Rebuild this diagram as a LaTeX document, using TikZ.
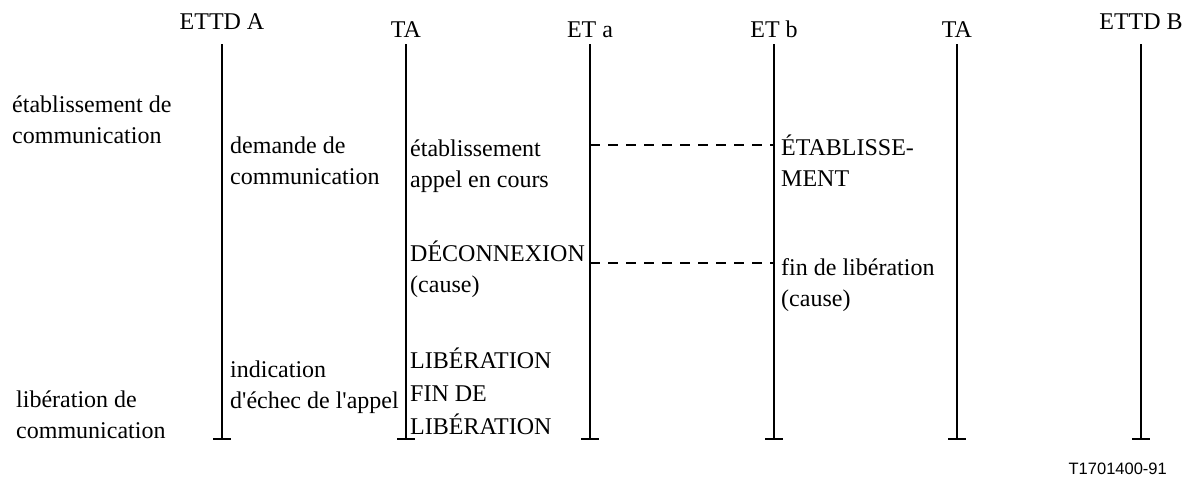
\documentclass[tikz,border=0pt]{standalone}
\usepackage{fontspec}
\setmainfont{Liberation Serif}[Ligatures=TeXOff]
\newfontfamily\refsans{Liberation Sans}
\newcommand{\lines}[1]{\begin{tabular}[b]{@{}l@{}}#1\end{tabular}}
\begin{document}
\begin{tikzpicture}[x=1pt,y=-1pt,
    lifeline/.style={line width=1.7pt},
    tickmark/.style={line width=1.7pt},
    signal/.style={line width=1.7pt,dash pattern=on 10pt off 8pt},
    head/.style={inner sep=0pt,anchor=base,font=\rmfamily\fontsize{24}{31}\selectfont},
    msg/.style={inner sep=0pt,anchor=base west,font=\rmfamily\fontsize{24}{31}\selectfont},
    refno/.style={inner sep=0pt,anchor=base east,font=\refsans\fontsize{16.5}{20}\selectfont}]
  \useasboundingbox (0,0) rectangle (1189,479);
  \renewcommand{\arraystretch}{1}
  \setlength{\tabcolsep}{0pt}

  % station headings
  \node[head] (hA)  at (222,29) {ETTD A};
  \node[head] (hTA) at (406,37) {TA};
  \node[head] (hEa) at (590,37) {ET a};
  \node[head] (hEb) at (774,37) {ET b};
  \node[head] (hTB) at (957,37) {TA};
  \node[head] (hB)  at (1141,29) {ETTD B};

  % lifelines with end ticks
  \foreach \n/\x in {A/222,TA/406,Ea/590,Eb/774,TB/957,B/1141}{
    \coordinate (\n-top) at (\x,44);
    \coordinate (\n-bot) at (\x,439);
    \draw[lifeline] (\n-top) -- (\n-bot);
    \draw[tickmark] ([xshift=-9pt]\n-bot) -- ([xshift=9pt]\n-bot);
  }

  % signals between the exchanges
  \coordinate (s1a) at (590,145);
  \coordinate (s1b) at (774,145);
  \coordinate (s2a) at (590,263);
  \coordinate (s2b) at (774,263);
  \draw[signal] (s1a) -- (s1b);
  \draw[signal] (s2a) -- (s2b);

  % phase labels (anchored on the baseline of the last line)
  \node[msg] (phase1) at (12,143) {\lines{établissement de\\communication}};
  \node[msg] (phase2) at (16,438) {\lines{libération de\\communication}};

  % ETTD A -- TA
  \node[msg] (req)  at (230,184) {\lines{demande de\\communication}};
  \node[msg] (fail) at (230,408) {\lines{indication\\d'échec de l'appel}};

  % TA -- ET a
  \node[msg] (est)  at (410,187) {\lines{établissement\\appel en cours}};
  \node[msg] (disc) at (410,292) {\lines{DÉCONNEXION\\(cause)}};
  \node[msg] (rel)  at (410,434) {\lines{LIBÉRATION\\[2pt]FIN DE\\[2pt]LIBÉRATION}};

  % ET b -- TA
  \node[msg] (etab) at (781,186) {\lines{ÉTABLISSE-\\MENT}};
  \node[msg] (fin)  at (781,306) {\lines{fin de libération\\(cause)}};

  \node[refno] (ref) at (1167,474) {T1701400-91};
\end{tikzpicture}
\end{document}
